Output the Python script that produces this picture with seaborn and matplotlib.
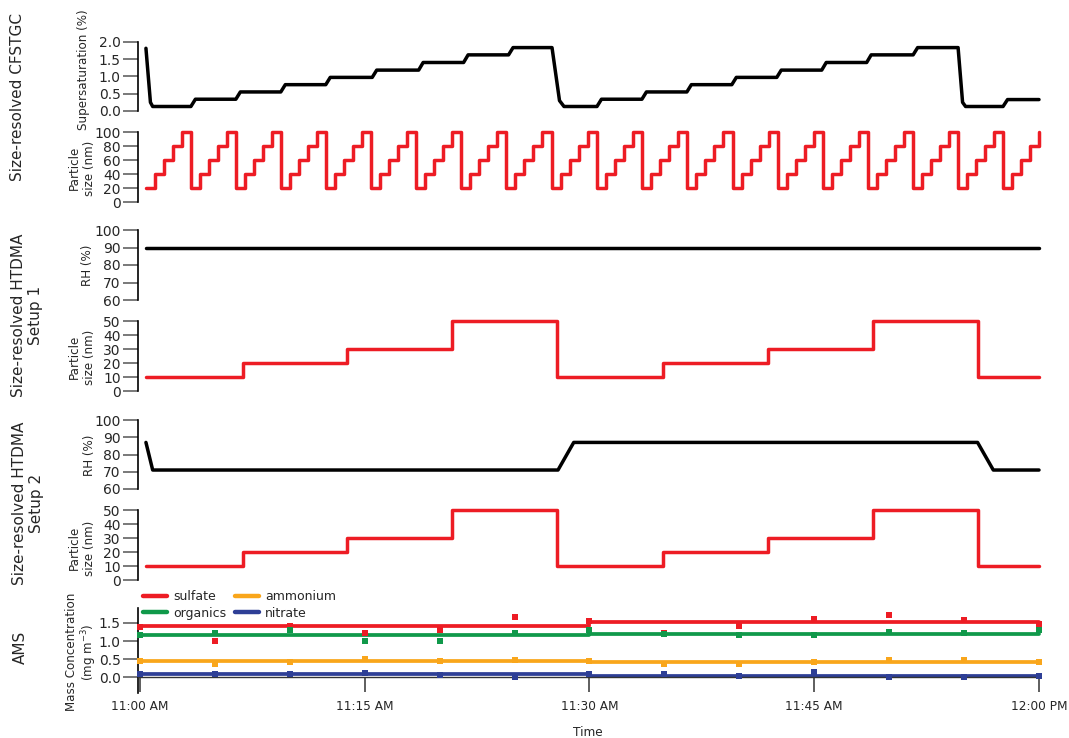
"""Instrument schedule overview: CFSTGC, HTDMA setups and AMS composition."""

import pandas as pd
import matplotlib
matplotlib.use("Agg")
import matplotlib.pyplot as plt
import seaborn as sns

sns.set_theme(style="white")
plt.rcParams["font.family"] = ["DejaVu Sans"]

W, H = 1069, 738
RED = "#ed1c24"
AMS_COLORS = {
    "sulfate": "#ed1c24",
    "organics": "#10994a",
    "ammonium": "#f9a61b",
    "nitrate": "#2e3f96",
}

# ── Data (time in minutes after 11:00) ────────────────────────────────────────
ss_time = [0.4, 0.7, 0.85, 3.4, 3.7, 6.4, 6.7, 9.4, 9.7, 12.4, 12.7,
           15.5, 15.8, 18.6, 18.9, 21.6, 21.9, 24.6, 24.9, 27.5, 28.0, 28.3,
           30.5, 30.8, 33.5, 33.8, 36.5, 36.8, 39.5, 39.8, 42.5, 42.8,
           45.5, 45.8, 48.5, 48.8, 51.6, 51.9, 54.6, 54.9, 55.1, 57.6, 57.9, 60.0]
ss_value = [1.81, 0.25, 0.13, 0.13, 0.34, 0.34, 0.55, 0.55, 0.76, 0.76, 0.97,
            0.97, 1.18, 1.18, 1.40, 1.40, 1.62, 1.62, 1.83, 1.83, 0.30, 0.13,
            0.13, 0.34, 0.34, 0.55, 0.55, 0.76, 0.76, 0.97, 0.97, 1.18,
            1.18, 1.40, 1.40, 1.62, 1.62, 1.83, 1.83, 0.25, 0.13, 0.13, 0.33, 0.33]

cfstgc_cycle_start = [0.4, 3.4, 6.4, 9.4, 12.4, 15.45, 18.45, 21.45, 24.45, 27.5,
                      30.5, 33.5, 36.5, 39.6, 42.6, 45.6, 48.6, 51.6, 54.6, 57.6]
cfstgc_sizes = [20, 40, 60, 80, 100]
cfstgc_dwell = 0.6

htdma_time = [0.4, 6.85, 13.85, 20.85, 27.85, 34.9, 41.9, 48.9, 55.9, 60.0]
htdma_size = [10, 20, 30, 50, 10, 20, 30, 50, 10, 10]

rh1_time = [0.4, 60.0]
rh1_value = [90, 90]

rh2_time = [0.4, 0.85, 27.9, 28.95, 55.9, 56.95, 60.0]
rh2_value = [87, 71, 71, 87, 87, 71, 71]

ams_time = [0, 5, 10, 15, 20, 25, 30, 35, 40, 45, 50, 55, 60]
sulfate = [1.40, 1.01, 1.42, 1.22, 1.31, 1.66, 1.56, 1.22, 1.42, 1.61, 1.73, 1.57, 1.47]
organics = [1.17, 1.22, 1.30, 0.99, 1.01, 1.21, 1.31, 1.20, 1.18, 1.18, 1.25, 1.22, 1.31]
ammonium = [0.45, 0.38, 0.41, 0.51, 0.46, 0.48, 0.46, 0.38, 0.38, 0.41, 0.48, 0.48, 0.43]
nitrate = [0.08, 0.09, 0.09, 0.11, 0.06, 0.02, 0.09, 0.10, 0.05, 0.14, 0.00, 0.00, 0.04]

avg_time = [0, 30, 60]
sulfate_avg = [1.42, 1.52, 1.52]
organics_avg = [1.17, 1.19, 1.19]
ammonium_avg = [0.45, 0.42, 0.42]
nitrate_avg = [0.08, 0.05, 0.05]

time_ticks = [0, 15, 30, 45, 60]
time_labels = ["11:00 AM", "11:15 AM", "11:30 AM", "11:45 AM", "12:00 PM"]

# CFSTGC size scan as a step table
rows = []
for start in cfstgc_cycle_start:
    for i, s in enumerate(cfstgc_sizes):
        t = round(start + i * cfstgc_dwell, 3)
        if t <= 60:
            rows.append((t, s))
cf = pd.DataFrame(rows, columns=["t", "size"])


def px(x, y):
    return x / W, 1 - y / H


def add_axes(top, bottom):
    left, right = 138, 1039
    return fig.add_axes([left / W, 1 - bottom / H, (right - left) / W, (bottom - top) / H])


def style_axis(ax, yticks, yfmt="{:.0f}", ylim=None):
    ax.set_xlim(-0.13, 60)
    ax.set_ylim(ylim if ylim else (yticks[0], yticks[-1]))
    ax.set_yticks(yticks)
    ax.set_yticklabels([yfmt.format(v) for v in yticks])
    for s in ["top", "right", "bottom"]:
        ax.spines[s].set_visible(False)
    ax.spines["left"].set_color("black")
    ax.spines["left"].set_linewidth(1.2)
    ax.tick_params(axis="y", direction="out", length=10.5, width=1.1,
                   color="#555555", labelsize=10, pad=2, left=True)
    ax.set_xticks([])
    ax.set_xlabel("")
    ax.set_ylabel("")
    ax.grid(False)


fig = plt.figure(figsize=(W / 100, H / 100), dpi=100)

line_kw = dict(lw=2.5, estimator=None, sort=False, legend=False, clip_on=False)

# Panel 1: supersaturation
ax1 = add_axes(41.7, 111)
sns.lineplot(x=ss_time, y=ss_value, color="black", ax=ax1, **line_kw)
style_axis(ax1, [0, 0.5, 1.0, 1.5, 2.0], "{:.1f}")

# Panel 2: CFSTGC particle size
ax2 = add_axes(132.3, 202.3)
sns.lineplot(data=cf, x="t", y="size", color=RED, drawstyle="steps-post", ax=ax2, **line_kw)
style_axis(ax2, [0, 20, 40, 60, 80, 100])

# Panel 3/4: HTDMA setup 1
ax3 = add_axes(230, 300)
sns.lineplot(x=rh1_time, y=rh1_value, color="black", ax=ax3, **line_kw)
style_axis(ax3, [60, 70, 80, 90, 100])

ax4 = add_axes(321, 391)
sns.lineplot(x=htdma_time, y=htdma_size, color=RED, drawstyle="steps-post", ax=ax4, **line_kw)
style_axis(ax4, [0, 10, 20, 30, 40, 50])

# Panel 5/6: HTDMA setup 2
ax5 = add_axes(420, 489)
sns.lineplot(x=rh2_time, y=rh2_value, color="black", ax=ax5, **line_kw)
style_axis(ax5, [60, 70, 80, 90, 100])

ax6 = add_axes(510, 580)
sns.lineplot(x=htdma_time, y=htdma_size, color=RED, drawstyle="steps-post", ax=ax6, **line_kw)
style_axis(ax6, [0, 10, 20, 30, 40, 50])

# Panel 7: AMS
ax7 = add_axes(608, 693)
series = [
    ("sulfate", sulfate, sulfate_avg),
    ("organics", organics, organics_avg),
    ("ammonium", ammonium, ammonium_avg),
    ("nitrate", nitrate, nitrate_avg),
]
handles = []
for name, pts, avg in series:
    c = AMS_COLORS[name]
    sns.lineplot(x=avg_time, y=avg, color=c, lw=2.7, drawstyle="steps-post",
                 estimator=None, sort=False, legend=False, ax=ax7, zorder=2, clip_on=False)
    sns.scatterplot(x=ams_time, y=pts, color=c, marker="s", s=16, linewidth=0,
                    legend=False, ax=ax7, zorder=3, clip_on=False)
    handles.append(plt.Line2D([], [], color=c, lw=3.2, label=name))

style_axis(ax7, [0, 0.5, 1.0, 1.5], "{:.1f}", ylim=(-0.43, 1.91))
ax7.spines["bottom"].set_visible(True)
ax7.spines["bottom"].set_position(("data", 0))
ax7.spines["bottom"].set_color("#333333")
ax7.spines["bottom"].set_linewidth(1.0)
ax7.set_xticks(time_ticks)
ax7.set_xticklabels(time_labels)
ax7.tick_params(axis="x", direction="out", length=11, width=1.1, color="#333333",
                labelsize=8.7, pad=5, bottom=True)

fig.legend(handles=handles, loc="upper left", bbox_to_anchor=px(143, 590), ncol=2,
           frameon=False, fontsize=9, handlelength=1.9, handletextpad=0.5,
           columnspacing=0.7, labelspacing=0.3, borderpad=0, borderaxespad=0)

# ── Axis labels ───────────────────────────────────────────────────────────────
lab = dict(rotation=90, ha="center", va="center", fontsize=8.6, linespacing=1.15)
fig.text(*px(84, 70), "Supersaturation (%)", **lab)
fig.text(*px(82, 168), "Particle\nsize (nm)", **lab)
fig.text(*px(88, 265), "RH (%)", **lab)
fig.text(*px(82, 357), "Particle\nsize (nm)", **lab)
fig.text(*px(89, 455), "RH (%)", **lab)
fig.text(*px(82, 548), "Particle\nsize (nm)", **lab)
fig.text(*px(82, 652), "Mass Concentration\n(mg m$^{-3}$)", **lab)

grp = dict(rotation=90, ha="center", va="center", fontsize=11, linespacing=1.2)
fig.text(*px(18, 97), "Size-resolved CFSTGC", **grp)
fig.text(*px(27, 315), "Size-resolved HTDMA\nSetup 1", **grp)
fig.text(*px(28, 503), "Size-resolved HTDMA\nSetup 2", **grp)
fig.text(*px(20, 647), "AMS", **grp)

fig.text(*px(588, 733), "Time", ha="center", va="center", fontsize=8.7)

fig.savefig("out.png", dpi=100)
plt.close()
